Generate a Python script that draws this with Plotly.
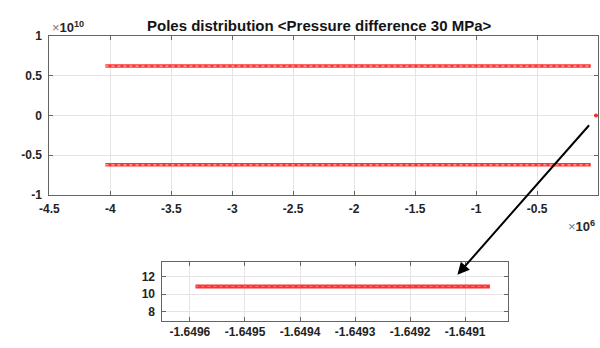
import plotly.graph_objects as go

# Main plot data (x in units of 1e6, y in units of 1e10)
upper_pole_x = [-4.04, -0.06]
upper_pole_y = [0.62, 0.62]
lower_pole_x = [-4.04, -0.06]
lower_pole_y = [-0.62, -0.62]
origin_pole_x = [-0.0165]
origin_pole_y = [0.0]

# Inset (zoom) data
inset_x = [-1.64959, -1.649055]
inset_y = [10.9, 10.9]

main_xticks = [-4.5, -4, -3.5, -3, -2.5, -2, -1.5, -1, -0.5, 0]
main_xtick_text = ["-4.5", "-4", "-3.5", "-3", "-2.5", "-2", "-1.5", "-1", "-0.5", "0"]
main_yticks = [-1, -0.5, 0, 0.5, 1]
main_ytick_text = ["-1", "-0.5", "0", "0.5", "1"]
inset_xticks = [-1.6496, -1.6495, -1.6494, -1.6493, -1.6492, -1.6491]
inset_xtick_text = ["-1.6496", "-1.6495", "-1.6494", "-1.6493", "-1.6492", "-1.6491"]
inset_yticks = [8, 10, 12]
inset_ytick_text = ["8", "10", "12"]

RED = "rgb(255,50,50)"
PINK = "rgb(255,175,175)"
FONT = "Liberation Sans"

def bold(labels):
    return ["<b>" + t + "</b>" for t in labels]

fig = go.Figure()

for xs, ys in [(upper_pole_x, upper_pole_y), (lower_pole_x, lower_pole_y)]:
    fig.add_trace(go.Scatter(x=xs, y=ys, mode="lines", line=dict(color=RED, width=3.5),
                             xaxis="x", yaxis="y", showlegend=False, hoverinfo="skip"))
    fig.add_trace(go.Scatter(x=xs, y=ys, mode="lines", line=dict(color=PINK, width=1.2, dash="dot"),
                             xaxis="x", yaxis="y", showlegend=False, hoverinfo="skip"))

fig.add_trace(go.Scatter(x=origin_pole_x, y=origin_pole_y, mode="markers",
                         marker=dict(color=RED, size=4), cliponaxis=False,
                         xaxis="x", yaxis="y", showlegend=False))

fig.add_trace(go.Scatter(x=inset_x, y=inset_y, mode="lines", line=dict(color=RED, width=4),
                         xaxis="x2", yaxis="y2", showlegend=False))
fig.add_trace(go.Scatter(x=inset_x, y=inset_y, mode="lines", line=dict(color="rgb(255,120,120)", width=1, dash="dot"),
                         xaxis="x2", yaxis="y2", showlegend=False))

W, H = 600, 348

def px_x(p):
    return p / W

def px_y(p):
    return 1 - p / H

axis_common = dict(
    showline=True, linecolor="rgb(100,100,100)", linewidth=1, mirror="ticks",
    ticks="inside", ticklen=4, tickcolor="rgb(100,100,100)",
    showgrid=True, gridcolor="rgb(228,228,228)", gridwidth=1,
    zeroline=False,
    tickfont=dict(family=FONT, size=12, color="rgb(35,35,35)"),
)

fig.update_layout(
    width=W, height=H,
    margin=dict(l=0, r=0, t=0, b=0),
    paper_bgcolor="white", plot_bgcolor="white",
    xaxis=dict(axis_common, domain=[px_x(40), px_x(598)], range=[-4.5, 0],
               tickvals=main_xticks, ticktext=bold(main_xtick_text), anchor="y",
               ticklabelstandoff=2),
    yaxis=dict(axis_common, domain=[px_y(196), px_y(30)], range=[-1, 1],
               tickvals=main_yticks, ticktext=bold(main_ytick_text), anchor="x",
               ticklabelstandoff=4),
    xaxis2=dict(axis_common, domain=[px_x(155), px_x(506)], range=[-1.64965, -1.649023],
                tickvals=inset_xticks, ticktext=bold(inset_xtick_text), anchor="y2"),
    yaxis2=dict(axis_common, domain=[px_y(327), px_y(266)], range=[6.9, 13.7],
                tickvals=inset_yticks, ticktext=bold(inset_ytick_text), anchor="x2",
                ticklabelstandoff=4),
    showlegend=False,
)

fig.add_annotation(text="<b>Poles distribution &lt;Pressure difference 30 MPa&gt;</b>",
                   x=px_x(315), y=px_y(19), xref="paper", yref="paper",
                   xanchor="center", yanchor="middle", showarrow=False,
                   font=dict(family=FONT, size=15, color="rgb(20,20,20)"))
fig.add_annotation(text="<span style='color:rgb(120,120,120)'>×</span><b>10<sup>10</sup></b>",
                   x=px_x(41), y=px_y(21), xref="paper", yref="paper",
                   xanchor="left", yanchor="middle", showarrow=False,
                   font=dict(family=FONT, size=13, color="rgb(40,40,40)"))
fig.add_annotation(text="<span style='color:rgb(120,120,120)'>×</span><b>10<sup>6</sup></b>",
                   x=px_x(565), y=px_y(228), xref="paper", yref="paper",
                   xanchor="left", yanchor="middle", showarrow=False,
                   font=dict(family=FONT, size=13, color="rgb(40,40,40)"))

# Arrow from main plot to inset
fig.add_annotation(text="", x=px_x(455), y=px_y(279), xref="paper", yref="paper",
                   ax=588 - 455, ay=128 - 279, axref="pixel", ayref="pixel",
                   showarrow=True, arrowhead=2, arrowsize=1.2, arrowwidth=2,
                   arrowcolor="black", standoff=0)

fig.write_html("out.html")
